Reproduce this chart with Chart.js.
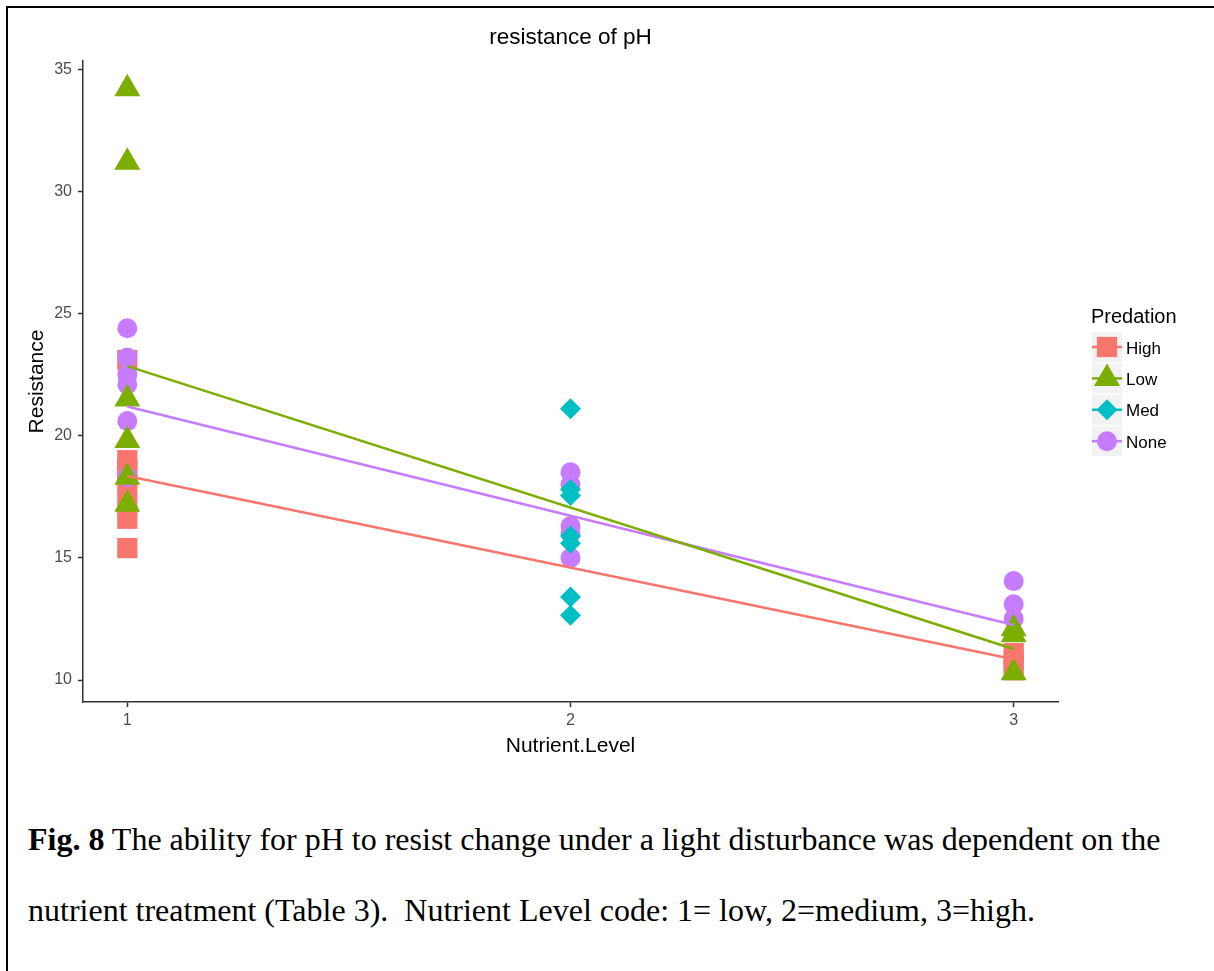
<!DOCTYPE html>
<html>
<head>
<meta charset="utf-8">
<script src="https://cdn.jsdelivr.net/npm/chart.js@4.4.1/dist/chart.umd.min.js"></script>
<style>
  html, body { margin: 0; padding: 0; background: #fff; width: 1214px; height: 971px; overflow: hidden; }
  #frame { position: absolute; left: 6px; top: 6px; width: 1230px; height: 1000px; border-left: 2px solid #000; border-top: 2px solid #000; }
  #chart { position: absolute; left: 0; top: 0; }
  .caption { position: absolute; left: 28px; font-family: "Liberation Serif", "Times New Roman", serif; font-size: 32px; line-height: 1; color: #000; white-space: nowrap; }
</style>
</head>
<body>
<div id="frame"></div>
<canvas id="chart" width="1214" height="780"></canvas>
<div class="caption" style="top:823px"><b>Fig. 8</b> The ability for pH to resist change under a light disturbance was dependent on the</div>
<div class="caption" style="top:894px">nutrient treatment (Table 3).&nbsp; Nutrient Level code: 1= low, 2=medium, 3=high.</div>
<script>
// Resistance of pH by nutrient level, one group per predation treatment
const chartTitle = 'resistance of pH';
const xTitle = 'Nutrient.Level';
const yTitle = 'Resistance';
const legendTitle = 'Predation';
const seriesNames = ['High', 'Low', 'Med', 'None'];

const highLevel = [1, 1, 1, 1, 1, 1, 1, 3, 3, 3];
const highResistance = [23.1, 19.0, 18.6, 18.0, 17.2, 16.6, 15.4, 11.1, 10.8, 10.4];

const lowLevel = [1, 1, 1, 1, 1, 1, 3, 3, 3];
const lowResistance = [34.2, 31.2, 21.5, 19.8, 18.3, 17.2, 12.1, 11.85, 10.3];

const medLevel = [2, 2, 2, 2, 2, 2, 2];
const medResistance = [21.1, 17.8, 17.55, 15.9, 15.6, 13.4, 12.65];

const noneLevel = [1, 1, 1, 1, 1, 1, 2, 2, 2, 2, 2, 3, 3, 3];
const noneResistance = [24.4, 23.2, 22.5, 22.1, 20.6, 18.3, 18.5, 18.0, 16.3, 16.0, 15.0, 14.05, 13.1, 12.5];

// linear fits (lm) per group, evaluated at the ends of the nutrient range
const fitLevel = [1, 3];
const highFit = [18.35, 10.85];
const lowFit = [22.85, 11.27];
const noneFit = [21.2, 12.25];

const xTickValues = [1, 2, 3];
const yTickValues = [10, 15, 20, 25, 30, 35];

// styling
const colors = { High: '#F8766D', Low: '#7CAE00', Med: '#00BFC4', None: '#C77CFF' };
const shapes = {
  High: { pointStyle: 'rect', radius: 14.3 },
  Low: { pointStyle: 'triangle', radius: 15 },
  Med: { pointStyle: 'rectRot', radius: 10.5 },
  None: { pointStyle: 'circle', radius: 10 }
};
const drawOrder = { High: 4, None: 3, Low: 2, Med: 1 };
const sans = '"Liberation Sans", Arial, sans-serif';

function pairs(xs, ys) { return xs.map((x, i) => ({ x: x, y: ys[i] })); }

const pointSets = {
  High: pairs(highLevel, highResistance),
  Low: pairs(lowLevel, lowResistance),
  Med: pairs(medLevel, medResistance),
  None: pairs(noneLevel, noneResistance)
};
const fitSets = {
  High: pairs(fitLevel, highFit),
  Low: pairs(fitLevel, lowFit),
  None: pairs(fitLevel, noneFit)
};

const datasets = [];
Object.keys(fitSets).forEach(name => {
  datasets.push({
    label: name + ' fit',
    data: fitSets[name],
    showLine: true,
    borderColor: colors[name],
    borderWidth: 2.5,
    pointRadius: 0,
    fill: false,
    tension: 0,
    order: 0
  });
});
seriesNames.forEach(name => {
  datasets.push({
    label: name,
    data: pointSets[name],
    showLine: false,
    backgroundColor: colors[name],
    borderWidth: 0,
    pointStyle: shapes[name].pointStyle,
    pointRadius: shapes[name].radius,
    pointHoverRadius: shapes[name].radius,
    order: drawOrder[name]
  });
});

function drawKeySymbol(ctx, name, x, y) {
  ctx.fillStyle = colors[name];
  Chart.helpers.drawPoint(ctx, {
    pointStyle: shapes[name].pointStyle,
    radius: shapes[name].radius,
    rotation: 0,
    borderWidth: 0
  }, x, y);
}

// titles and the legend with its grey key boxes
const decorations = {
  id: 'decorations',
  afterDraw(chart) {
    const ctx = chart.ctx;
    const area = chart.chartArea;
    ctx.save();
    ctx.fillStyle = '#000';
    ctx.textBaseline = 'alphabetic';

    ctx.font = '22.5px ' + sans;
    ctx.textAlign = 'center';
    ctx.fillText(chartTitle, (area.left + area.right) / 2, 44);

    ctx.font = '21px ' + sans;
    ctx.fillText(xTitle, (area.left + area.right) / 2, 752);

    ctx.save();
    ctx.translate(43, (area.top + area.bottom) / 2);
    ctx.rotate(-Math.PI / 2);
    ctx.fillText(yTitle, 0, 0);
    ctx.restore();

    ctx.textAlign = 'left';
    ctx.font = '20px ' + sans;
    ctx.fillText(legendTitle, 1091, 323);

    const keyLeft = 1092, keySize = 30, keyTop = 332, keyStep = 31.4;
    seriesNames.forEach((name, i) => {
      const top = keyTop + i * keyStep;
      const cx = keyLeft + keySize / 2, cy = top + keySize / 2;
      ctx.fillStyle = '#F2F2F2';
      ctx.fillRect(keyLeft, top, keySize, keySize);
      ctx.strokeStyle = colors[name];
      ctx.lineWidth = 2.5;
      ctx.beginPath();
      ctx.moveTo(keyLeft, cy);
      ctx.lineTo(keyLeft + keySize, cy);
      ctx.stroke();
      drawKeySymbol(ctx, name, cx, cy);
      ctx.fillStyle = '#000';
      ctx.font = '17px ' + sans;
      ctx.fillText(name, 1126, cy + 6.5);
    });
    ctx.restore();
  }
};

const tickFont = { family: sans, size: 16 };

new Chart(document.getElementById('chart'), {
  type: 'scatter',
  data: { datasets: datasets },
  options: {
    responsive: false,
    animation: false,
    events: [],
    layout: { padding: { top: 61, right: 156, left: 0, bottom: 0 } },
    plugins: { legend: { display: false }, title: { display: false }, tooltip: { enabled: false } },
    scales: {
      x: {
        type: 'linear',
        min: 0.9,
        max: 3.1,
        afterBuildTicks: s => { s.ticks = xTickValues.map(v => ({ value: v })); },
        afterFit: s => { s.height = 78; },
        ticks: { color: '#4D4D4D', font: tickFont, padding: 4, callback: v => String(v) },
        grid: { drawOnChartArea: false, drawTicks: true, tickLength: 5, tickColor: '#333', tickWidth: 1.5 },
        border: { display: true, color: '#333', width: 1.5 }
      },
      y: {
        type: 'linear',
        min: 9.1,
        max: 35.34,
        afterBuildTicks: s => { s.ticks = yTickValues.map(v => ({ value: v })); },
        afterFit: s => { s.width = 83; },
        ticks: { color: '#4D4D4D', font: tickFont, padding: 6, callback: v => String(v) },
        grid: { drawOnChartArea: false, drawTicks: true, tickLength: 5, tickColor: '#333', tickWidth: 1.5 },
        border: { display: true, color: '#333', width: 1.5 }
      }
    }
  },
  plugins: [decorations]
});
</script>
</body>
</html>
